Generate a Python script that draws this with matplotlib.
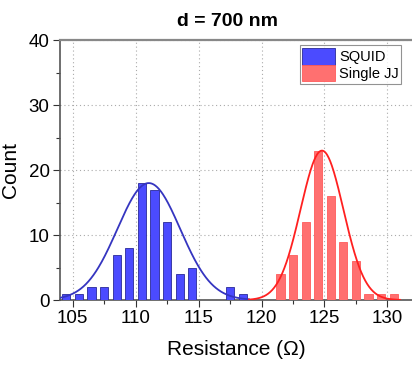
import numpy as np
import matplotlib
matplotlib.use("Agg")
import matplotlib.pyplot as plt
from matplotlib.ticker import MultipleLocator

plt.rcParams['font.family'] = ['Liberation Sans', 'DejaVu Sans']

# Histogram bins (bin centers, 1 ohm wide)
squid_centers = [104.5, 105.5, 106.5, 107.5, 108.5, 109.5, 110.5, 111.5,
                 112.5, 113.5, 114.5, 117.5, 118.5]
squid_counts = [1, 1, 2, 2, 7, 8, 18, 17, 12, 4, 5, 2, 1]

jj_centers = [121.5, 122.5, 123.5, 124.5, 125.5, 126.5, 127.5, 128.5, 129.5, 130.5]
jj_counts = [4, 7, 12, 23, 16, 9, 6, 1, 1, 1]

# Gaussian fit parameters (amplitude, center, sigma)
squid_fit = (18.0, 111.05, 2.5)
jj_fit = (23.0, 124.8, 1.7)

x_ticks = [105, 110, 115, 120, 125, 130]
y_ticks = [0, 10, 20, 30, 40]


def gauss(x, a, xc, s):
    return a * np.exp(-(x - xc) ** 2 / (2 * s ** 2))


fig = plt.figure(figsize=(4.12, 3.65), dpi=100)
ax = fig.add_axes([0.1456, 0.178, 0.856, 0.712])

ax.bar(squid_centers, squid_counts, width=0.65, color="#4b4bff",
       edgecolor="#2a2a99", linewidth=0.6, label="SQUID", zorder=3)
ax.bar(jj_centers, jj_counts, width=0.65, color="#ff7070",
       edgecolor="#ff5a5a", linewidth=0.6, label="Single JJ", zorder=3)

xs = np.linspace(104.0, 119.0, 300)
ax.plot(xs, gauss(xs, *squid_fit), color="#3535c0", lw=1.3, zorder=4)
xr = np.linspace(119.0, 131.0, 300)
ax.plot(xr, gauss(xr, *jj_fit), color="#ff2020", lw=1.3, zorder=4)

ax.set_xlim(104.0, 132.0)
ax.set_ylim(0, 40)
ax.set_xticks(x_ticks)
ax.set_yticks(y_ticks)
ax.xaxis.set_minor_locator(MultipleLocator(2.5))
ax.yaxis.set_minor_locator(MultipleLocator(5))
ax.tick_params(axis="both", which="major", labelsize=13.5, length=5,
               width=0.8, direction="out", color="#333333", pad=2.5)
ax.tick_params(axis="both", which="minor", length=3, width=0.8,
               direction="out", color="#333333")
ax.grid(True, which="major", linestyle=(0, (1, 2.5)), color="#aaaaaa",
        linewidth=0.8, zorder=0)

for side in ["left", "bottom"]:
    ax.spines[side].set_color("#555555")
    ax.spines[side].set_linewidth(1.2)
ax.spines["top"].set_color("#888888")
ax.spines["top"].set_linewidth(1.6)
ax.spines["right"].set_visible(False)

ax.set_xlabel("Resistance (Ω)", fontsize=15, labelpad=9)
ax.set_ylabel("Count", fontsize=15, labelpad=6)
fig.text(0.553, 0.94, "d = 700 nm", ha="center", va="center",
         fontsize=14, fontweight="bold")

leg = ax.legend(loc="upper left", bbox_to_anchor=(0.727, 0.876),
                bbox_transform=fig.transFigure, fontsize=10.5,
                frameon=True, fancybox=False, handlelength=2.2,
                handleheight=1.35, handletextpad=0.3, borderpad=0.2,
                labelspacing=0.0, borderaxespad=0)
leg.get_frame().set_edgecolor("#777777")
leg.get_frame().set_linewidth(0.8)

fig.savefig("out.png", dpi=100)
